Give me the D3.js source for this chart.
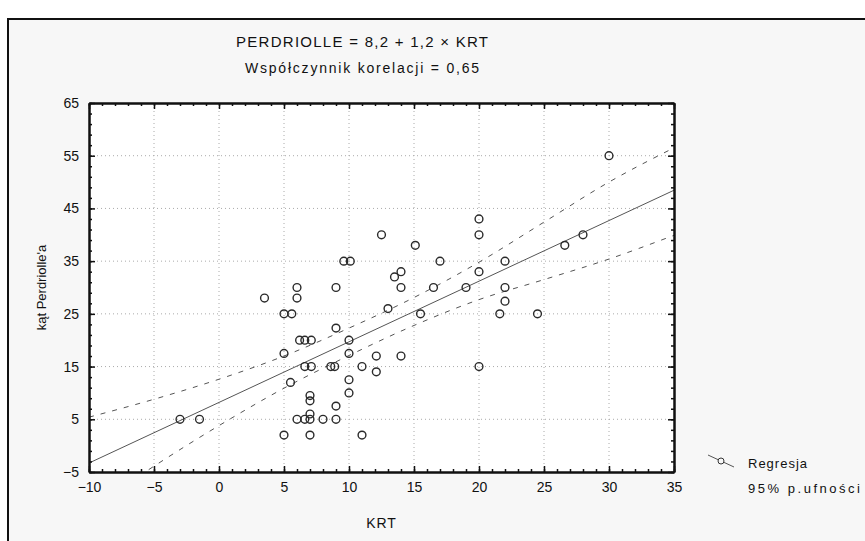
<meta charset="UTF-8">
<head>
  <script src="https://d3js.org/d3.v7.min.js"></script>
  <style>
    body { margin: 0; background: #fff; }
    text { font-family: "Liberation Sans", Arial, sans-serif; fill: #111; }
  </style>
</head>
<body>
  <svg id="svg" width="865" height="541"></svg>
  <script>
    // KRT (x) and Perdriolle angle (y)
    const krt = [-3, -1.5, 3.5, 5, 5.6, 5, 5.5, 5, 6, 6, 6.2, 6.6, 7.1, 6.6, 7.1, 6, 6.6, 7, 7, 7, 7, 7,
      8, 9, 9, 8.6, 8.9, 9, 9, 9.6, 10.1, 10, 10, 10, 10, 11, 11, 12.1, 12.1, 12.5, 13, 13.5, 14, 14, 14,
      15.1, 15.5, 16.5, 17, 19, 20, 20, 20, 20, 21.6, 22, 22, 22, 24.5, 26.6, 28, 30];
    const perdriolle = [5, 5, 28, 25, 25, 17.5, 12, 2, 30, 28, 20, 20, 20, 15, 15, 5, 5, 6, 5, 9.5, 8.5, 2,
      5, 5, 7.5, 15, 15, 22.3, 30, 35, 35, 20, 17.5, 12.5, 10, 15, 2, 17, 14, 40, 26, 32, 33, 30, 17,
      38, 25, 30, 35, 30, 43, 40, 33, 15, 25, 35, 30, 27.4, 25, 38, 40, 55];

    // regression line ends and 95% band, read at these KRT values
    const fitX = [-10, 35];
    const fitY = [-3.3, 48.45];
    const bandX = [-10, -5, 0, 5, 10, 15, 20, 25, 30, 35];
    const bandUpper = [5.4, 8.8, 12.6, 17.0, 22.3, 28.1, 34.8, 42.4, 50.0, 56.5];
    const bandLower = [-12.2, -3.9, 3.8, 10.9, 17.1, 22.8, 27.7, 31.5, 35.4, 39.9];

    const xTicks = [-10, -5, 0, 5, 10, 15, 20, 25, 30, 35];
    const yTicks = [-5, 5, 15, 25, 35, 45, 55, 65];

    const svg = d3.select("#svg");
    const pLeft = 89, pRight = 674, pTop = 103, pBottom = 472;

    const x = d3.scaleLinear().domain([-10, 35]).range([pLeft, pRight]);
    const y = d3.scaleLinear().domain([-5, 65]).range([pBottom, pTop]);

    // outer frame
    svg.append("rect").attr("x", 8).attr("y", 19).attr("width", 900).attr("height", 600)
      .attr("fill", "#f7f7f7").attr("stroke", "#111").attr("stroke-width", 2);

    svg.append("rect").attr("x", pLeft).attr("y", pTop).attr("width", pRight - pLeft).attr("height", pBottom - pTop)
      .attr("fill", "#fff");

    // grid
    const grid = svg.append("g").attr("stroke", "#aaa").attr("stroke-dasharray", "1,3");
    grid.selectAll(".gx").data(xTicks.slice(1, -1)).enter().append("line")
      .attr("x1", d => x(d)).attr("x2", d => x(d)).attr("y1", pTop).attr("y2", pBottom);
    grid.selectAll(".gy").data(yTicks.slice(1, -1)).enter().append("line")
      .attr("y1", d => y(d)).attr("y2", d => y(d)).attr("x1", pLeft).attr("x2", pRight);

    svg.append("clipPath").attr("id", "plot").append("rect")
      .attr("x", pLeft).attr("y", pTop).attr("width", pRight - pLeft).attr("height", pBottom - pTop);
    const plot = svg.append("g").attr("clip-path", "url(#plot)");

    const band = (vals) => d3.line().curve(d3.curveMonotoneX)
      .x((d, i) => x(bandX[i])).y(d => y(d))(vals);

    plot.append("path").attr("d", band(bandUpper)).attr("fill", "none")
      .attr("stroke", "#555").attr("stroke-dasharray", "5,7");
    plot.append("path").attr("d", band(bandLower)).attr("fill", "none")
      .attr("stroke", "#555").attr("stroke-dasharray", "5,7");
    plot.append("line").attr("x1", x(fitX[0])).attr("y1", y(fitY[0]))
      .attr("x2", x(fitX[1])).attr("y2", y(fitY[1])).attr("stroke", "#555");

    plot.selectAll("circle").data(krt).enter().append("circle")
      .attr("cx", d => x(d)).attr("cy", (d, i) => y(perdriolle[i])).attr("r", 3.9)
      .attr("fill", "none").attr("stroke", "#2a2a2a").attr("stroke-width", 1.4);

    // axes: ticks point inward
    const drawAxis = (axis, tr) => svg.append("g").attr("transform", tr).call(axis)
      .call(g => g.select(".domain").attr("stroke", "#111").attr("stroke-width", 2))
      .call(g => g.selectAll(".tick line").attr("stroke", "#111").attr("stroke-width", 1.5));

    const minorX = d3.range(-10, 36, 1);
    const minorY = d3.range(-5, 66, 2);

    drawAxis(d3.axisBottom(x).tickValues(minorX).tickSize(-3).tickFormat("").tickSizeOuter(0), `translate(0,${pBottom})`);
    drawAxis(d3.axisTop(x).tickValues(minorX).tickSize(-3).tickFormat("").tickSizeOuter(0), `translate(0,${pTop})`);
    drawAxis(d3.axisLeft(y).tickValues(minorY).tickSize(-3).tickFormat("").tickSizeOuter(0), `translate(${pLeft},0)`);
    drawAxis(d3.axisRight(y).tickValues(minorY).tickSize(-3).tickFormat("").tickSizeOuter(0), `translate(${pRight},0)`);

    const xAx = drawAxis(d3.axisBottom(x).tickValues(xTicks).tickSize(-6).tickPadding(10).tickSizeOuter(0), `translate(0,${pBottom})`);
    drawAxis(d3.axisTop(x).tickValues(xTicks).tickSize(-6).tickFormat("").tickSizeOuter(0), `translate(0,${pTop})`);
    const yAx = drawAxis(d3.axisLeft(y).tickValues(yTicks).tickSize(-6).tickPadding(10).tickSizeOuter(0), `translate(${pLeft},0)`);
    drawAxis(d3.axisRight(y).tickValues(yTicks).tickSize(-6).tickFormat("").tickSizeOuter(0), `translate(${pRight},0)`);

    xAx.selectAll("text").attr("font-size", 14).attr("font-family", "Liberation Sans").attr("fill", "#111");
    yAx.selectAll("text").attr("font-size", 14).attr("font-family", "Liberation Sans").attr("fill", "#111");

    // titles
    svg.append("text").attr("x", 362).attr("y", 47).attr("text-anchor", "middle").attr("font-size", 15)
      .attr("textLength", 252).attr("lengthAdjust", "spacing")
      .text("PERDRIOLLE = 8,2 + 1,2 × KRT");
    svg.append("text").attr("x", 362).attr("y", 73).attr("text-anchor", "middle").attr("font-size", 14)
      .attr("textLength", 234).attr("lengthAdjust", "spacing")
      .text("Współczynnik korelacji = 0,65");
    svg.append("text").attr("x", x(12.5)).attr("y", 528).attr("text-anchor", "middle").attr("font-size", 14)
      .attr("letter-spacing", 1).text("KRT");
    svg.append("text").attr("transform", `translate(46,${(pTop + pBottom) / 2}) rotate(-90)`)
      .attr("text-anchor", "middle").attr("font-size", 13).text("kąt Perdriolle'a");

    // legend
    const lg = svg.append("g");
    lg.append("line").attr("x1", 708).attr("y1", 455).attr("x2", 734).attr("y2", 467)
      .attr("stroke", "#555");
    lg.append("circle").attr("cx", 721).attr("cy", 461).attr("r", 3)
      .attr("fill", "#f7f7f7").attr("stroke", "#333");
    lg.append("text").attr("x", 748).attr("y", 468).attr("font-size", 13).attr("letter-spacing", 1)
      .text("Regresja");
    lg.append("text").attr("x", 748).attr("y", 493).attr("font-size", 13)
      .attr("textLength", 112).attr("lengthAdjust", "spacing")
      .text("95% p.ufności");
  </script>
</body>
